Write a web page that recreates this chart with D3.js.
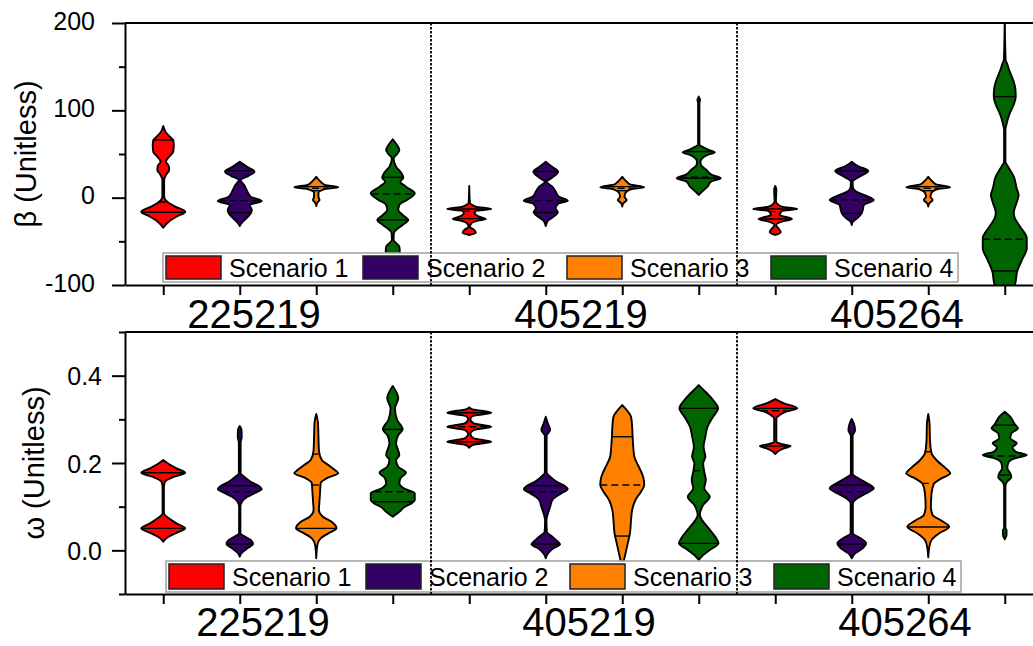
<!DOCTYPE html>
<meta charset="utf-8">
<style>
  body { margin: 0; background: #fff; }
  svg { display: block; font-family: "Liberation Sans", Arial, sans-serif; }
  .axis path, .axis line { stroke: #000; stroke-width: 2px; }
  .axis text { font-size: 25px; fill: #000; font-family: "Liberation Sans", Arial, sans-serif; }
</style>
<body></body>
<script src="https://d3js.org/d3.v7.min.js"></script>
<script>
  var groups = ["225219", "405219", "405264"];
  var scenarios = ["Scenario 1", "Scenario 2", "Scenario 3", "Scenario 4"];
  var colors = ["#ff0000", "#330066", "#ff8000", "#006400"];

  // violin profiles: [value, relative density], ordered group by group, scenario 1..4
  var betaViolins = [
    [[-34.4,0],[-27.5,0.25],[-21.8,0.6],[-16,1],[-10.3,0.55],[-4.6,0.18],[1.1,0.04],[20.3,0.04],[27,0.15],[31.7,0.27],[36.3,0.25],[41.2,0.12],[47.7,0.3],[52.3,0.45],[60.3,0.48],[66,0.45],[69.8,0.3],[75.6,0.1],[82,0]],
    [[-32.4,0],[-28.6,0.1],[-23.6,0.3],[-17.9,0.5],[-14.1,0.55],[-8.4,0.45],[-3.8,1],[1.1,0.5],[6.9,0.35],[14.5,0.2],[20.3,0.04],[25,0.4],[29.8,0.67],[35,0.35],[39.4,0.1],[41.2,0]],
    [[-9.5,0],[-5.7,0.05],[-2.6,0.15],[1.1,0.1],[5.7,0.1],[9.6,0.35],[11.9,1],[14.5,0.4],[18.3,0.2],[24,0]],
    [[-75,0],[-68,0.2],[-61.8,0.32],[-56.1,0.3],[-48.4,0.04],[-40.8,0.05],[-37,0.15],[-31.3,0.45],[-25.5,0.7],[-19.8,0.45],[-14.1,0.25],[-8.4,0.3],[-1.8,0.7],[5,1],[12.6,0.6],[18.3,0.35],[22.9,0.48],[27.9,0.4],[35.5,0.15],[45,0.04],[50,0.2],[54.6,0.3],[60,0.2],[66.9,0]],
    [[-42.7,0],[-40.1,0.3],[-37,0.22],[-33.2,0.03],[-29.3,0.1],[-26.3,0.4],[-24.4,0.75],[-21.8,0.45],[-17.9,0.25],[-15.2,0.3],[-12.9,1],[-10.3,0.3],[-8.4,0.15],[-6.4,0.03],[13.4,0]],
    [[-32.4,0],[-26.3,0.1],[-21.8,0.35],[-16.7,0.55],[-12.1,0.45],[-7.2,0.55],[-3.4,1],[1.1,0.6],[6.9,0.45],[12.6,0.3],[18.3,0.04],[23,0.3],[29.8,0.56],[35,0.3],[39.4,0.08],[41.2,0]],
    [[-10.3,0],[-6.4,0.05],[-2.6,0.2],[1.1,0.1],[5.7,0.15],[9.6,0.4],[11.9,1],[15.3,0.35],[18.3,0.2],[24,0]],
    [[3.1,0],[8,0.2],[12.6,0.4],[18.3,0.55],[22.2,1],[26,0.6],[31.7,0.35],[37.4,0.1],[41.2,0.08],[45.1,0.15],[48.9,0.4],[52,0.73],[54.6,0.45],[58.4,0.15],[61,0.03],[108,0.03],[112,0.06],[115.7,0]],
    [[-42.7,0],[-39.6,0.25],[-37,0.2],[-31.3,0.04],[-27.5,0.3],[-24.4,0.76],[-19.8,0.2],[-15.2,0.3],[-12.9,1],[-10.3,0.3],[-7.2,0.1],[-4,0.03],[8.8,0.05],[13.4,0]],
    [[-31.3,0],[-27.5,0.05],[-23.6,0.25],[-17.9,0.45],[-14.1,0.5],[-8.4,0.55],[-2.6,1],[3.1,0.55],[6.9,0.2],[12,0.05],[18.3,0.04],[24,0.35],[30.6,0.75],[36,0.3],[39.4,0.08],[41.2,0]],
    [[-10.3,0],[-6.4,0.05],[-2.6,0.2],[1.1,0.1],[5.7,0.15],[9.6,0.4],[11.9,1],[15.3,0.35],[18.3,0.2],[24,0]],
    [[-115,0],[-106,0.35],[-97.9,0.48],[-84.7,0.56],[-71.3,0.78],[-57.9,1],[-46.5,1],[-33.2,0.7],[-23,0.45],[-17,0.41],[-5,0.55],[3.1,0.63],[10,0.55],[24,0.41],[35.5,0.15],[41.2,0.03],[77.5,0.03],[83.2,0.07],[94.7,0.2],[106.1,0.4],[115.7,0.5],[125.3,0.48],[134.8,0.38],[146.2,0.2],[153.9,0.1],[157.6,0.04],[210,0]]
  ];
  // [lower quartile, median, upper quartile]
  var betaStats = [
    [-16.7, -5, 66], [-17.2, -3.4, 30.9], [8, 10.8, 12.6], [-25.5, 4.2, 23.3],
    [-24, -15.5, -12.9], [-17, -3.4, 30], [8, 10.8, 12.6], [22.2, 23.5, 52.7],
    [-24.4, -16, -12.9], [-17.9, -2.6, 30.6], [8, 10.8, 12.6], [-83.9, -47.6, 115.7]
  ];

  var omegaViolins = [
    [[0.0197,0],[0.0298,0.2],[0.0389,0.55],[0.0504,1],[0.0618,0.6],[0.0733,0.25],[0.0847,0.03],[0.1456,0.03],[0.1571,0.08],[0.1686,0.5],[0.1777,1],[0.1877,0.6],[0.1976,0.25],[0.2068,0]],
    [[-0.0147,0],[-0.0055,0.1],[0.0046,0.35],[0.0144,0.6],[0.0236,0.5],[0.0311,0.25],[0.0389,0.03],[0.0998,0.03],[0.1113,0.1],[0.1227,0.35],[0.1328,0.75],[0.1404,1],[0.148,0.85],[0.1571,0.5],[0.1686,0.2],[0.1763,0.04],[0.246,0.04],[0.26,0.09],[0.276,0.08],[0.2846,0]],
    [[-0.0183,0],[0.0121,0.05],[0.0275,0.2],[0.0389,0.55],[0.0504,0.92],[0.0655,0.7],[0.0769,0.3],[0.0923,0.12],[0.1152,0.15],[0.1381,0.18],[0.1534,0.2],[0.1671,0.55],[0.1763,1],[0.1839,0.85],[0.1953,0.55],[0.2068,0.25],[0.2297,0.12],[0.2602,0.1],[0.2908,0.08],[0.3121,0]],
    [[0.0769,0],[0.0884,0.3],[0.0998,0.55],[0.1076,0.85],[0.1152,1],[0.1305,1],[0.142,0.5],[0.1534,0.3],[0.1649,0.35],[0.1777,0.6],[0.1915,0.25],[0.2068,0.15],[0.2182,0.3],[0.245,0.15],[0.264,0.25],[0.2771,0.45],[0.2984,0.2],[0.3251,0.1],[0.348,0.25],[0.3762,0]],
    [[0.235,0],[0.2411,0.15],[0.2487,1],[0.2565,0.2],[0.2663,0.05],[0.2755,0.2],[0.283,1],[0.2908,0.2],[0.3,0.05],[0.3075,0.15],[0.3151,1],[0.3229,0.15],[0.3275,0]],
    [[-0.0183,0],[-0.0069,0.1],[0.0046,0.35],[0.0137,0.65],[0.0197,0.55],[0.0311,0.3],[0.0426,0.05],[0.0694,0.03],[0.0847,0.1],[0.0998,0.2],[0.1152,0.3],[0.1305,0.7],[0.1404,1],[0.148,0.85],[0.1571,0.5],[0.1686,0.2],[0.178,0.04],[0.262,0.04],[0.2755,0.2],[0.29,0.1],[0.306,0]],
    [[-0.04,0],[-0.0222,0.08],[-0.0069,0.15],[0.016,0.25],[0.0389,0.35],[0.0694,0.4],[0.0923,0.45],[0.1152,0.6],[0.1342,0.85],[0.1495,1],[0.1686,0.95],[0.1915,0.75],[0.2143,0.55],[0.2372,0.5],[0.2602,0.47],[0.283,0.45],[0.306,0.4],[0.3213,0.2],[0.3327,0]],
    [[-0.0222,0],[-0.0108,0.2],[0.0007,0.5],[0.016,0.9],[0.0311,0.75],[0.0504,0.45],[0.0694,0.15],[0.0808,0.05],[0.1037,0.2],[0.1227,0.5],[0.142,0.25],[0.161,0.32],[0.18,0.25],[0.1992,0.2],[0.2143,0.3],[0.2372,0.22],[0.2602,0.3],[0.283,0.4],[0.306,0.65],[0.3251,0.88],[0.3442,0.65],[0.3632,0.3],[0.3785,0]],
    [[0.2205,0],[0.2274,0.15],[0.2336,0.4],[0.2388,0.7],[0.2434,0.3],[0.2487,0.05],[0.3022,0.05],[0.3098,0.2],[0.3175,0.5],[0.3251,1],[0.3366,0.4],[0.3465,0]],
    [[-0.0183,0],[-0.0069,0.15],[0.0046,0.5],[0.016,0.65],[0.0275,0.4],[0.0389,0.05],[0.1076,0.05],[0.1191,0.25],[0.1305,0.65],[0.142,1],[0.1534,0.7],[0.1649,0.3],[0.175,0.04],[0.262,0.04],[0.275,0.15],[0.29,0.1],[0.3007,0]],
    [[-0.016,0],[0.0082,0.05],[0.0236,0.15],[0.0389,0.5],[0.054,0.95],[0.0694,0.55],[0.0808,0.2],[0.0998,0.12],[0.1305,0.15],[0.1518,0.25],[0.1649,0.6],[0.1763,1],[0.1877,0.8],[0.2029,0.45],[0.2221,0.15],[0.25,0.08],[0.29,0.06],[0.3121,0]],
    [[0.0252,0],[0.035,0.08],[0.0465,0.08],[0.0504,0.03],[0.1456,0.03],[0.1571,0.1],[0.1671,0.3],[0.1763,0.25],[0.1877,0.12],[0.1992,0.15],[0.2107,0.45],[0.2182,1],[0.2258,0.5],[0.2359,0.35],[0.245,0.55],[0.2565,0.25],[0.2679,0.3],[0.2793,0.6],[0.2892,0.45],[0.306,0.25],[0.3175,0]]
  ];
  var omegaStats = [
    [0.0504, 0.115, 0.1777], [0.0144, 0.1342, 0.148], [0.0504, 0.1495, 0.2205], [0.1113, 0.1342, 0.2771],
    [0.2487, 0.283, 0.3151], [0.0144, 0.1342, 0.148], [0.0327, 0.1495, 0.2602], [0.016, 0.1823, 0.3251],
    [0.2388, 0.3197, 0.3251], [0.0144, 0.1342, 0.1495], [0.0535, 0.1534, 0.2258], [0.1724, 0.2159, 0.2869]
  ];

  var betaTicks = [-100, 0, 100, 200], betaMinor = [-50, 50, 150];
  var omegaTicks = [0, 0.2, 0.4], omegaMinor = [-0.1, 0.1, 0.3, 0.5];

  var W = 1033, H = 646;
  var svg = d3.select("body").append("svg").attr("width", W).attr("height", H);

  var x = d3.scaleLinear().domain([0.5, 12.5]).range([125, 1043]);
  var halfW = d3.scaleLinear().domain([0, 1]).range([0, 22]);

  var panels = [
    { top: 23, bottom: 285, domain: [-100, 200], ticks: betaTicks, minor: betaMinor, fmt: function(d) { return String(d); },
      violins: betaViolins, stats: betaStats, label: "\u03b2 (Unitless)", labelX: 36, pad: 17, tdy: -3,
      legendX: 163, legendY: 253, legendH: 29, nameY: 328, nameShift: [-24, -3, 7] },
    { top: 332, bottom: 594, domain: [-0.1, 0.5], ticks: omegaTicks, minor: omegaMinor, fmt: d3.format(".1f"),
      violins: omegaViolins, stats: omegaStats, label: "\u03c9 (Unitless)", labelX: 44, pad: 10, tdy: 0,
      legendX: 166, legendY: 561, legendH: 31, nameY: 636, nameShift: [-15, 5, 15] }
  ];

  function widthAt(profile, v) {
    for (var i = 1; i < profile.length; i++) {
      var a = profile[i - 1], b = profile[i];
      if (v >= a[0] && v <= b[0]) {
        var t = (v - a[0]) / (b[0] - a[0] || 1);
        return a[1] + t * (b[1] - a[1]);
      }
    }
    return 0;
  }

  panels.forEach(function(p, pi) {
    var y = d3.scaleLinear().domain(p.domain).range([p.bottom, p.top]);
    var g = svg.append("g");

    g.append("defs").append("clipPath").attr("id", "clip" + pi)
      .append("rect")
      .attr("x", 125).attr("y", p.top)
      .attr("width", W - 125).attr("height", p.bottom - p.top);

    // violins
    var vg = g.append("g").attr("clip-path", "url(#clip" + pi + ")");
    p.violins.forEach(function(prof, i) {
      var cx = x(i + 1);
      var area = d3.area()
        .curve(d3.curveMonotoneY)
        .y(function(d) { return y(d[0]); })
        .x0(function(d) { return cx - halfW(d[1]); })
        .x1(function(d) { return cx + halfW(d[1]); });
      vg.append("path")
        .datum(prof)
        .attr("d", area)
        .attr("fill", colors[i % 4])
        .attr("stroke", "#000")
        .attr("stroke-width", 1.9)
        .attr("stroke-linejoin", "round");

      p.stats[i].forEach(function(v, k) {
        var hw = halfW(widthAt(prof, v));
        vg.append("line")
          .attr("x1", cx - hw).attr("x2", cx + hw)
          .attr("y1", y(v)).attr("y2", y(v))
          .attr("stroke", "#000")
          .attr("stroke-width", 1.4)
          .attr("stroke-dasharray", k === 1 ? "7,4" : null);
      });
    });

    // legend
    var lg = g.append("g");
    lg.append("rect")
      .attr("x", p.legendX).attr("y", p.legendY)
      .attr("width", 795).attr("height", p.legendH)
      .attr("fill", "#fff").attr("stroke", "#a0a0a0").attr("stroke-width", 1.5);
    var itemX = [0, 197, 401, 605];
    scenarios.forEach(function(s, k) {
      var sx = p.legendX + 3 + itemX[k];
      lg.append("rect")
        .attr("x", sx).attr("y", p.legendY + 3)
        .attr("width", 55).attr("height", p.legendH - 6)
        .attr("fill", colors[k]).attr("stroke", "#222").attr("stroke-width", 1.5);
      lg.append("text")
        .attr("x", sx + 63).attr("y", p.legendY + p.legendH / 2 + 9)
        .attr("font-size", 25)
        .text(s);
    });

    // group separators
    [4.5, 8.5].forEach(function(s) {
      g.append("line")
        .attr("x1", x(s)).attr("x2", x(s))
        .attr("y1", p.top).attr("y2", p.bottom)
        .attr("stroke", "#000").attr("stroke-width", 1.8)
        .attr("stroke-dasharray", "2.5,1.5");
    });

    // axes
    g.append("line")
      .attr("x1", 125).attr("x2", W).attr("y1", p.top).attr("y2", p.top)
      .attr("stroke", "#000").attr("stroke-width", 2);

    var yAxis = g.append("g").attr("class", "axis")
      .attr("transform", "translate(125,0)")
      .call(d3.axisLeft(y).tickValues(p.ticks).tickSize(13).tickSizeOuter(0)
        .tickPadding(p.pad).tickFormat(p.fmt));
    yAxis.selectAll("text").attr("dy", null).attr("dominant-baseline", "central")
      .attr("transform", "translate(0," + p.tdy + ")");

    g.append("g").attr("class", "axis")
      .attr("transform", "translate(125,0)")
      .call(d3.axisLeft(y).tickValues(p.minor).tickSize(6).tickFormat(""))
      .select(".domain").remove();

    g.append("g").attr("class", "axis")
      .attr("transform", "translate(0," + p.bottom + ")")
      .call(d3.axisBottom(x).tickValues(d3.range(1, 13)).tickSize(10).tickSizeOuter(0).tickFormat(""));

    // group names
    groups.forEach(function(name, k) {
      g.append("text")
        .attr("x", x(k * 4 + 2.5) + p.nameShift[k])
        .attr("y", p.nameY)
        .attr("text-anchor", "middle")
        .attr("font-size", 40)
        .text(name);
    });

    // y title
    g.append("text")
      .attr("transform", "translate(" + p.labelX + "," + (p.top + p.bottom) / 2 + ") rotate(-90)")
      .attr("text-anchor", "middle")
      .attr("font-size", 29)
      .text(p.label);
  });
</script>
